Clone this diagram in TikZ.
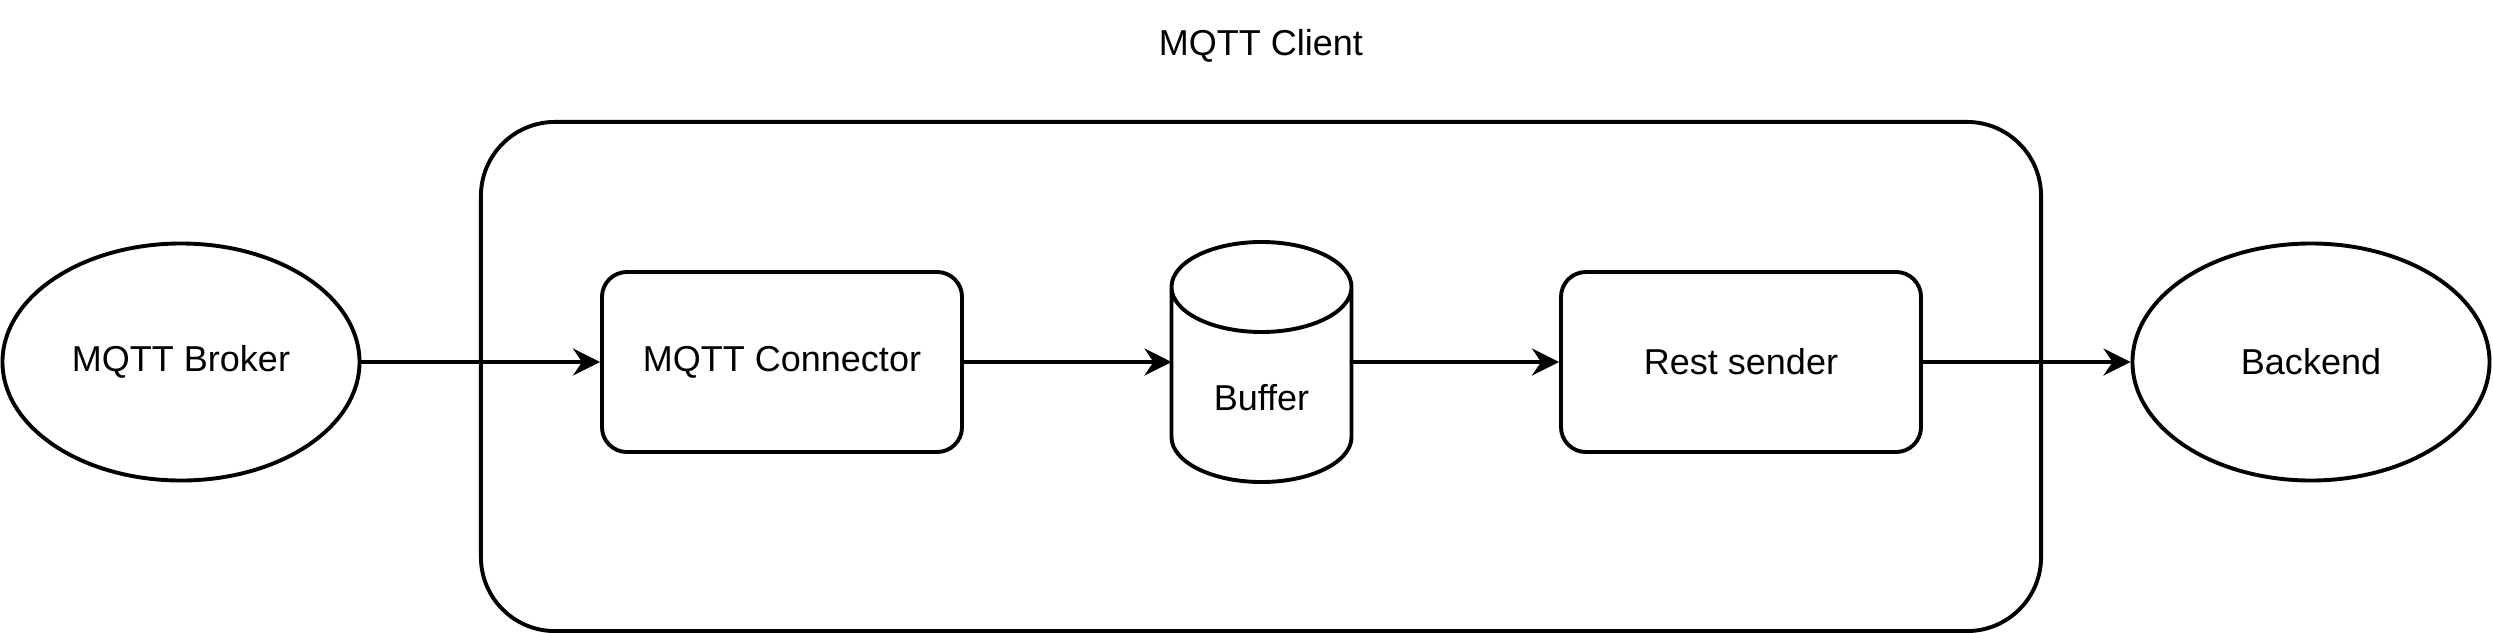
\documentclass[tikz,border=0pt]{standalone}
\usepackage{fontspec}
\setmainfont{Liberation Sans}
\usetikzlibrary{shapes.geometric,arrows.meta}

\begin{document}
\begin{tikzpicture}[x=0.3333pt, y=-0.3333pt, line width=1.3pt, line cap=round, line join=round,
        font=\fontsize{12pt}{14pt}\selectfont,
        endpoint/.style={draw, ellipse, inner sep=0pt, minimum width=119pt, minimum height=79pt},
        stage/.style={draw, rounded corners=8.3pt, inner sep=0pt, minimum width=120pt, minimum height=60pt},
        store/.style={inner sep=0pt, outer sep=0pt, minimum width=60pt, minimum height=80pt},
        flow/.style={-{Stealth[length=9pt, width=9pt, inset=3pt]}}]

                \useasboundingbox (0,0) rectangle (2493,633);

                % the client box and its title
                \node[draw, rounded corners=24.7pt, minimum width=520pt, minimum height=169.7pt] (client) at (1261,376.5) {};
                \node (title) at (1261,46) {MQTT Client};

                \node[endpoint] (broker) at (181,362) {MQTT Broker};
                \node[stage] (connector) at (782,362) {MQTT Connector};
                \node[store, label={[yshift=-12pt]center:Buffer}] (buffer) at (1261.5,362) {};
                \node[stage] (sender) at (1741,362) {Rest sender};
                \node[endpoint] (backend) at (2311,362) {Backend};

                % cylinder round the buffer
                \draw ([yshift=-15pt]buffer.north west) -- ([yshift=15pt]buffer.south west)
                    arc[start angle=180, end angle=360, x radius=30pt, y radius=15pt]
                    -- ([yshift=-15pt]buffer.north east)
                    arc[start angle=0, end angle=180, x radius=30pt, y radius=15pt]
                    arc[start angle=180, end angle=360, x radius=30pt, y radius=15pt];

                \draw[flow] (broker) -- (connector);
                \draw[flow] (connector) -- (buffer);
                \draw[flow] (buffer) -- (sender);
                \draw[flow] (sender) -- (backend);

\end{tikzpicture}
\end{document}
